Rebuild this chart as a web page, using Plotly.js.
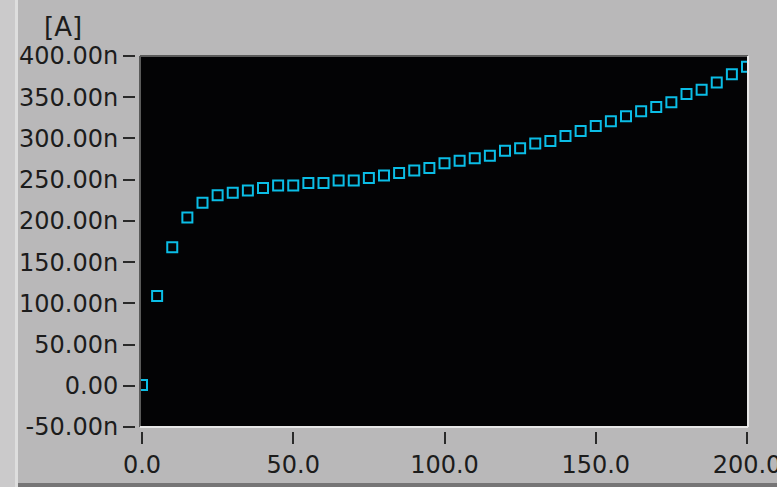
<!DOCTYPE html>
<html>
<head>
<meta charset="utf-8">
<script src="https://cdn.plot.ly/plotly-3.0.1.min.js"></script>
<style>
  html, body { margin: 0; padding: 0; background: #b9b8b9; overflow: hidden; }
  #wrap { position: relative; width: 777px; height: 487px; overflow: hidden; }
  #chart { position: absolute; left: 0; top: 0; width: 777px; height: 487px; }
  .deco { position: absolute; pointer-events: none; }
</style>
</head>
<body>
<div id="wrap">
  <div id="chart"></div>
  <div class="deco" style="left:0;top:0;width:15px;height:487px;background:#cbcacb;"></div>
  <div class="deco" style="left:15px;top:0;width:3px;height:487px;background:#dedede;"></div>
  <div class="deco" style="left:18px;top:483px;width:759px;height:4px;background:#767576;"></div>
</div>
<script>
// Time / sweep values (x) and measured current in nA (y)
const xValues = [0,5,10,15,20,25,30,35,40,45,50,55,60,65,70,75,80,85,90,95,100,
                 105,110,115,120,125,130,135,140,145,150,155,160,165,170,175,180,185,190,195,200];
const currentNA = [1,109,168,204,222,231,234,237,240,243,243,246,246,249,249,252,255,258,261,264,270,
                   273,276,279,285,288,294,297,303,309,315,321,327,333,338,344,354,359,368,378,387];
const yTickVals = [-50,0,50,100,150,200,250,300,350,400];
const yTickText = ["-50.00n","0.00","50.00n","100.00n","150.00n","200.00n","250.00n","300.00n","350.00n","400.00n"];
const xTickVals = [0,50,100,150,200];
const xTickText = ["0.0","50.0","100.0","150.0","200.0"];
const yUnitLabel = "[A]";

const W = 777, H = 487;
const mL = 135, mR = 29, mT = 56, mB = 56;
const pw = W - mL - mR, ph = H - mT - mB;

const font = {family: "DejaVu Sans, sans-serif", size: 24, color: "#1c1c1c"};

const trace = {
  x: xValues,
  y: currentNA,
  type: "scatter",
  mode: "markers",
  marker: {
    symbol: "square-open",
    size: 10,
    color: "#0bbde6",
    line: {width: 2, color: "#0bbde6"}
  },
  cliponaxis: true,
  hoverinfo: "skip"
};

const layout = {
  width: W, height: H,
  margin: {l: mL, r: mR, t: mT, b: mB, pad: 0},
  paper_bgcolor: "#b9b8b9",
  plot_bgcolor: "#030305",
  showlegend: false,
  font: font,
  xaxis: {
    domain: [5 / pw, 1],
    range: [-0.66, 200.33],
    anchor: "free",
    position: 0,
    showgrid: false, zeroline: false, showline: false,
    ticks: "outside", ticklen: 12, tickwidth: 2, tickcolor: "#2a2a2a",
    tickvals: xTickVals, ticktext: xTickText,
    ticklabeloverflow: "allow",
    tickfont: font,
    fixedrange: true
  },
  yaxis: {
    domain: [4 / ph, 1],
    range: [-50, 400],
    anchor: "free",
    position: 0,
    showgrid: false, zeroline: false, showline: false,
    ticks: "outside", ticklen: 12, tickwidth: 2, tickcolor: "#2a2a2a",
    tickvals: yTickVals, ticktext: yTickText,
    ticklabeloverflow: "allow",
    tickfont: font,
    fixedrange: true
  },
  shapes: [
    {type: "line", xref: "x domain", yref: "y domain", x0: 0, x1: 1, y0: 1, y1: 1, line: {color: "#5a5a5a", width: 2}},
    {type: "line", xref: "x domain", yref: "y domain", x0: 0, x1: 0, y0: 0, y1: 1, line: {color: "#5a5a5a", width: 2}},
    {type: "line", xref: "x domain", yref: "y domain", x0: 0, x1: 1, y0: 0, y1: 0, line: {color: "#e6e6e6", width: 2}},
    {type: "line", xref: "x domain", yref: "y domain", x0: 1, x1: 1, y0: 0, y1: 1, line: {color: "#e6e6e6", width: 2}}
  ],
  annotations: [
    {text: yUnitLabel, xref: "paper", yref: "paper",
     x: (63 - mL) / pw, y: (H - mB - 27) / ph,
     xanchor: "center", yanchor: "middle", showarrow: false,
     font: {family: font.family, size: 26, color: font.color}}
  ]
};

Plotly.newPlot("chart", [trace], layout, {displayModeBar: false, staticPlot: true});
</script>
</body>
</html>
